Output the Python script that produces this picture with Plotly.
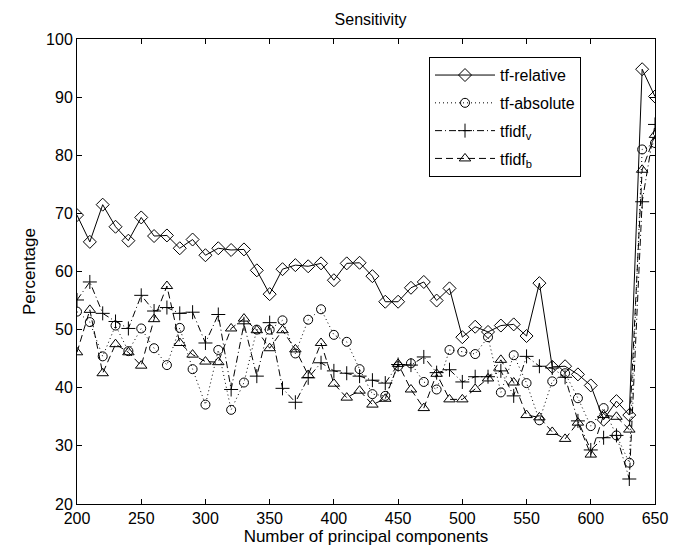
import plotly.graph_objects as go

components = list(range(200, 651, 10))

tf_relative = [69.7, 65.1, 71.5, 67.7, 65.3, 69.3, 66.1, 66.2, 64.0, 65.5,
               62.8, 64.0, 63.7, 63.8, 60.2, 56.1, 60.4, 61.1, 60.9, 61.4,
               58.5, 61.4, 61.5, 59.2, 54.8, 54.8, 57.2, 58.2, 55.0, 57.1,
               48.7, 50.5, 49.6, 50.7, 50.9, 48.9, 58.0, 43.6, 43.7, 42.3,
               40.4, 34.5, 37.7, 35.3, 94.8, 90.1]

tf_absolute = [53.1, 51.3, 45.4, 50.7, 46.3, 50.2, 46.8, 43.9, 50.3, 43.2,
               37.1, 46.5, 36.2, 40.9, 50.0, 50.0, 51.6, 45.9, 51.7, 53.5,
               49.1, 47.9, 43.2, 38.9, 38.6, 43.7, 44.2, 41.0, 39.7, 46.5,
               46.2, 45.8, 48.7, 39.2, 45.6, 40.8, 34.4, 41.1, 42.5, 38.2,
               33.4, 36.5, 31.8, 27.1, 81.0, 82.1]

tfidf_v = [55.1, 58.2, 52.8, 51.4, 50.2, 55.9, 53.2, 53.8, 52.8, 53.0,
           47.7, 52.6, 39.7, 51.0, 42.0, 51.2, 39.9, 37.5, 41.7, 44.3,
           42.9, 42.5, 42.0, 41.3, 40.8, 44.0, 43.9, 45.3, 42.6, 43.1,
           41.0, 41.9, 41.9, 42.9, 38.6, 45.4, 43.7, 43.4, 41.8, 34.3,
           29.3, 31.4, 31.8, 24.3, 72.0, 85.3]

tfidf_b = [46.1, 53.4, 42.5, 47.5, 46.1, 43.8, 51.8, 57.5, 47.7, 45.7,
           44.5, 44.4, 50.2, 51.9, 49.9, 46.8, 49.9, 46.6, 42.2, 47.7,
           40.7, 38.3, 39.5, 37.1, 38.1, 44.1, 39.7, 36.5, 42.4, 38.0,
           38.0, 39.8, 41.6, 44.8, 40.9, 35.3, 34.9, 32.4, 31.2, 34.0,
           28.5, 35.3, 35.0, 32.8, 77.5, 83.5]

x_ticks = [200, 250, 300, 350, 400, 450, 500, 550, 600, 650]
y_ticks = [20, 30, 40, 50, 60, 70, 80, 90, 100]

FONT = "Liberation Sans, Arial, sans-serif"

series = [
    ("tf-relative", tf_relative, "solid", "diamond-open", 10),
    ("tf-absolute", tf_absolute, "1px,3px", "circle-open", 9),
    ("tfidf<sub>v</sub>", tfidf_v, "7px,3px,1px,3px", "cross-thin-open", 10),
    ("tfidf<sub>b</sub>", tfidf_b, "7px,4px", "triangle-up-open", 10),
]

fig = go.Figure()
for i, (name, vals, dash, sym, size) in enumerate(series):
    fig.add_trace(go.Scatter(
        x=components, y=vals, name=name, mode="lines+markers",
        legendgroup=f"g{i}",
        line=dict(color="black", width=1, dash=dash),
        marker=dict(symbol=sym, size=size, color="black",
                    line=dict(color="black", width=1)),
    ))

axis_common = dict(
    showline=True, linecolor="black", linewidth=1, mirror="ticks",
    ticks="inside", ticklen=5, tickcolor="black", showgrid=False,
    zeroline=False, tickfont=dict(family=FONT, size=16, color="black"),
)

fig.update_layout(
    width=680, height=553,
    margin=dict(l=77, r=17, t=39, b=48),
    paper_bgcolor="white", plot_bgcolor="white",
    title=dict(text="Sensitivity", x=0.545, xanchor="center",
               y=1 - 19 / 553, yanchor="middle", yref="container",
               font=dict(family=FONT, size=16, color="black")),
    xaxis=dict(range=[200, 650], tickvals=x_ticks,
               title=dict(text="Number of principal components", standoff=2,
                          font=dict(family=FONT, size=17, color="black")),
               **axis_common),
    yaxis=dict(range=[20, 100], tickvals=y_ticks,
               title=dict(text="Percentage", standoff=6,
                          font=dict(family=FONT, size=17, color="black")),
               **axis_common),
    legend=dict(x=0.609, y=0.961, xanchor="left", yanchor="top",
                bgcolor="white", bordercolor="black", borderwidth=1,
                font=dict(family=FONT, size=16, color="black"),
                itemwidth=60, tracegroupgap=4),
    showlegend=True,
)

fig.write_html("out.html", config={"displayModeBar": False},
               post_script="document.body.style.margin='0px';")
